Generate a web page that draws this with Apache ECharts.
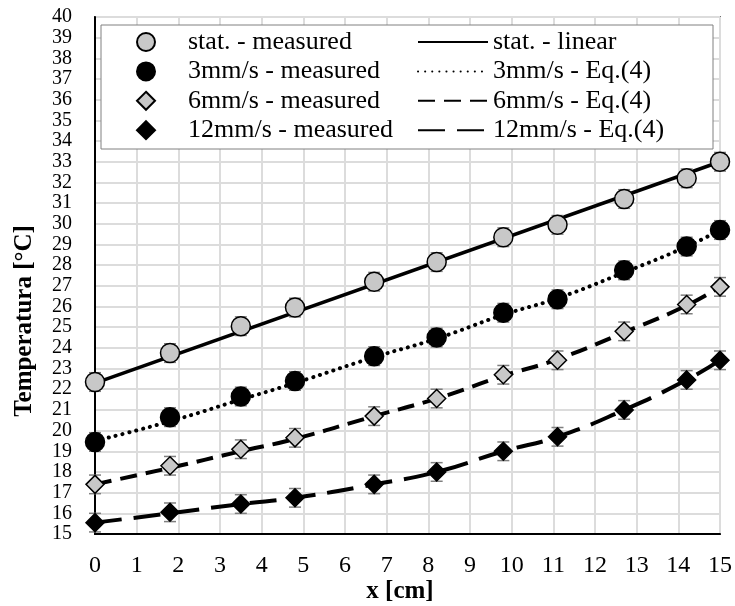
<!DOCTYPE html>
<html>
<head>
<meta charset="utf-8">
<script src="https://cdn.jsdelivr.net/npm/echarts@6/dist/echarts.min.js"></script>
<style>
  html, body { margin: 0; padding: 0; background: #fff; }
  #chart { width: 735px; height: 606px; }
</style>
</head>
<body>
<div id="chart"></div>
<script>
// x positions of the thermocouples [cm]
const xPos = [0, 1.8, 3.5, 4.8, 6.7, 8.2, 9.8, 11.1, 12.7, 14.2, 15]

// measured temperatures [°C]
const statMeasured = [22.35, 23.75, 25.05, 25.95, 27.2, 28.15, 29.35, 29.95, 31.2, 32.2, 33.0]
const v3Measured = [19.45, 20.65, 21.65, 22.4, 23.6, 24.5, 25.7, 26.35, 27.75, 28.9, 29.7]
const v6Measured = [17.4, 18.3, 19.1, 19.65, 20.7, 21.55, 22.7, 23.4, 24.8, 26.1, 26.95]
const v12Measured = [15.55, 16.05, 16.45, 16.75, 17.4, 18.0, 19.0, 19.7, 21.0, 22.45, 23.4]
const errBar = 0.45

// model curves
const statLinearX = [0, 15]
const statLinear = [22.3, 33.0]
const v3Model = [19.5, 20.45, 21.5, 22.3, 23.55, 24.45, 25.6, 26.4, 27.65, 28.9, 29.7]
const v6Model = [17.4, 18.2, 19.0, 19.6, 20.7, 21.55, 22.65, 23.45, 24.75, 26.05, 26.95]
const v12Model = [15.55, 16.0, 16.45, 16.75, 17.4, 18.0, 19.0, 19.7, 21.0, 22.45, 23.4]

const FONT = 'Liberation Serif'
const pairs = (xs, ys) => xs.map((x, i) => [x, ys[i]])
const withErr = ys => xPos.map((x, i) => [x, ys[i], errBar])

function errorSeries(name, ys) {
  return {
    name: name,
    type: 'custom',
    z: 3,
    data: withErr(ys),
    renderItem: (params, api) => {
      const x = api.value(0), y = api.value(1), e = api.value(2)
      const top = api.coord([x, y + e])
      const bot = api.coord([x, y - e])
      const st = { stroke: '#7f7f7f', lineWidth: 1.5 }
      return {
        type: 'group',
        children: [
          { type: 'line', shape: { x1: top[0], y1: top[1], x2: bot[0], y2: bot[1] }, style: st },
          { type: 'line', shape: { x1: top[0] - 6, y1: top[1], x2: top[0] + 6, y2: top[1] }, style: st },
          { type: 'line', shape: { x1: bot[0] - 6, y1: bot[1], x2: bot[0] + 6, y2: bot[1] }, style: st }
        ]
      }
    }
  }
}

function measured(name, ys, symbol, size, fill) {
  return {
    name: name,
    type: 'scatter',
    z: 4,
    clip: false,
    symbol: symbol,
    symbolSize: size,
    itemStyle: { color: fill, borderColor: '#000', borderWidth: 1.5, opacity: 1 },
    data: pairs(xPos, ys)
  }
}

function model(name, xs, ys, dash, width, cap, smooth) {
  return {
    name: name,
    type: 'line',
    z: 2,
    clip: false,
    symbol: 'none',
    smooth: smooth,
    lineStyle: { color: '#000', width: width, type: dash, cap: cap },
    itemStyle: { color: '#000' },
    data: pairs(xs, ys)
  }
}

const diamond = 'path://M0,-1L1,0L0,1L-1,0Z'

const chart = echarts.init(document.getElementById('chart'))
chart.setOption({
  animation: false,
  backgroundColor: '#fff',
  grid: { left: 95, right: 14, top: 17, bottom: 72, show: true, borderColor: '#000', borderWidth: 1.5 },
  xAxis: {
    type: 'value', min: 0, max: 15, interval: 1,
    axisLine: { show: true, lineStyle: { color: '#000', width: 2 } },
    axisTick: { show: false },
    axisLabel: { color: '#000', fontFamily: FONT, fontSize: 24, margin: 20, showMinLabel: true, showMaxLabel: true },
    splitLine: { show: true, lineStyle: { color: '#dcdcdc', width: 2 } }
  },
  yAxis: {
    type: 'value', min: 15, max: 40, interval: 1,
    axisLine: { show: true, lineStyle: { color: '#000', width: 2 } },
    axisTick: { show: false },
    axisLabel: { color: '#000', fontFamily: FONT, fontSize: 20, lineHeight: 18, margin: 23, showMinLabel: true, showMaxLabel: true, hideOverlap: false },
    splitLine: { show: true, lineStyle: { color: '#dcdcdc', width: 2 } }
  },
  graphic: [
    { type: 'rect', z: 50, shape: { x: 101, y: 25, width: 612, height: 124 },
      style: { fill: '#fff', stroke: '#808080', lineWidth: 1 } },
    { type: 'text', z: 60, x: 25, y: 321, rotation: Math.PI / 2,
      style: { text: 'Temperatura [°C]', font: 'bold 25px "Liberation Serif"', fill: '#000', align: 'center', verticalAlign: 'middle' } },
    { type: 'text', z: 60, x: 400, y: 592,
      style: { text: 'x [cm]', font: 'bold 25px "Liberation Serif"', fill: '#000', align: 'center', verticalAlign: 'middle' } }
  ],
  legend: [
    {
      z: 60, orient: 'vertical', left: 136, top: 29, padding: 0, itemGap: 3.4,
      itemWidth: 74, itemHeight: 18, symbolKeepAspect: true,
      textStyle: { fontFamily: FONT, fontSize: 26, color: '#000', lineHeight: 26 },
      data: [
        { name: 'stat. - measured', icon: 'circle' },
        { name: '3mm/s - measured', icon: 'circle' },
        { name: '6mm/s - measured', icon: diamond },
        { name: '12mm/s - measured', icon: diamond }
      ]
    },
    {
      z: 60, orient: 'vertical', left: 417, top: 29, padding: 0, itemGap: 3.4,
      itemWidth: 70, itemHeight: 18,
      itemStyle: { opacity: 0 },
      textStyle: { fontFamily: FONT, fontSize: 26, color: '#000', lineHeight: 26 },
      data: ['stat. - linear', '3mm/s - Eq.(4)', '6mm/s - Eq.(4)', '12mm/s - Eq.(4)']
    }
  ],
  series: [
    model('stat. - linear', statLinearX, statLinear, 'solid', 3.5, 'butt', false),
    model('3mm/s - Eq.(4)', xPos, v3Model, [0.1, 7], 4, 'round', true),
    model('6mm/s - Eq.(4)', xPos, v6Model, [17, 9], 4, 'butt', true),
    model('12mm/s - Eq.(4)', xPos, v12Model, [27, 12], 4, 'butt', true),
    errorSeries('err-stat', statMeasured),
    errorSeries('err-3', v3Measured),
    errorSeries('err-6', v6Measured),
    errorSeries('err-12', v12Measured),
    measured('stat. - measured', statMeasured, 'circle', 19, '#c8c8c8'),
    measured('3mm/s - measured', v3Measured, 'circle', 19, '#000'),
    measured('6mm/s - measured', v6Measured, diamond, 18, '#c8c8c8'),
    measured('12mm/s - measured', v12Measured, diamond, 18, '#000')
  ]
})
</script>
</body>
</html>
